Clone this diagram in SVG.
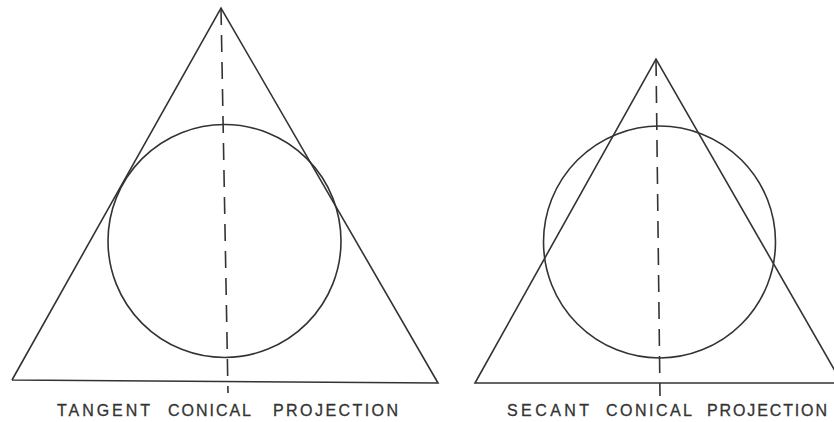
<svg xmlns="http://www.w3.org/2000/svg" width="834" height="422" viewBox="0 0 834 422">
<style>
.ln{fill:none;stroke:#333;stroke-width:1.6;stroke-linejoin:miter}
.ax{fill:none;stroke:#333;stroke-width:1.6;stroke-dasharray:17 10}
.lb{font-family:"Liberation Sans",Arial,sans-serif;font-size:16px;fill:#333;stroke:#333;stroke-width:0.3}
</style>
<rect width="834" height="422" fill="#fff"/>
<g id="tangent">
<polyline class="ln" points="12,380 221,8 438,383 12,380"/>
<circle class="ln" cx="224.5" cy="241" r="116.5"/>
<line class="ax" x1="221" y1="8" x2="228" y2="393"/>
<text class="lb" x="57" y="416" textLength="93" lengthAdjust="spacing">TANGENT</text>
<text class="lb" x="168" y="416" textLength="83" lengthAdjust="spacing">CONICAL</text>
<text class="lb" x="273" y="416" textLength="125" lengthAdjust="spacing">PROJECTION</text>
</g>
<g id="secant">
<polyline class="ln" points="842,383 656,59 475,383 842,383"/>
<circle class="ln" cx="659.5" cy="242" r="116"/>
<line class="ax" x1="656" y1="59" x2="660" y2="396"/>
<text class="lb" x="507" y="416" textLength="82" lengthAdjust="spacing">SECANT</text>
<text class="lb" x="606" y="416" textLength="86" lengthAdjust="spacing">CONICAL</text>
<text class="lb" x="707" y="416" textLength="120" lengthAdjust="spacing">PROJECTION</text>
</g>
</svg>
